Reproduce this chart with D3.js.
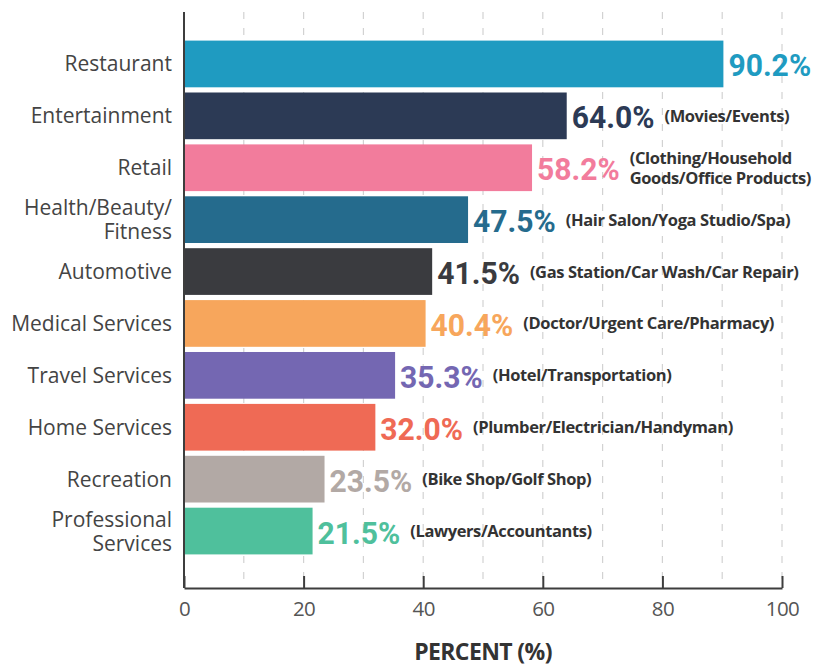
<!DOCTYPE html>
<html>
<head>
<meta charset="utf-8">
<script src="https://cdn.jsdelivr.net/npm/d3@7"></script>
<style>
  html, body { margin: 0; padding: 0; background: #fff; }
  svg { display: block; }
</style>
</head>
<body>
<svg id="chart" width="818" height="666"></svg>
<script>
// Share of respondents by business category
const categories = [
  "Restaurant", "Entertainment", "Retail", "Health/Beauty/\nFitness", "Automotive",
  "Medical Services", "Travel Services", "Home Services", "Recreation", "Professional\nServices"
];
const values = [90.2, 64.0, 58.2, 47.5, 41.5, 40.4, 35.3, 32.0, 23.5, 21.5];
const details = [
  "",
  "(Movies/Events)",
  "(Clothing/Household\nGoods/Office Products)",
  "(Hair Salon/Yoga Studio/Spa)",
  "(Gas Station/Car Wash/Car Repair)",
  "(Doctor/Urgent Care/Pharmacy)",
  "(Hotel/Transportation)",
  "(Plumber/Electrician/Handyman)",
  "(Bike Shop/Golf Shop)",
  "(Lawyers/Accountants)"
];
const colors = [
  "#1f9bc1", "#2c3a55", "#f27c9c", "#256b8d", "#3a3b3f",
  "#f7a65c", "#7467b2", "#ef6a55", "#b2a9a5", "#4fc09c"
];
const xTicks = [0, 20, 40, 60, 80, 100];
const gridTicks = [10, 20, 30, 40, 50, 60, 70, 80, 90, 100];
const xTitle = "PERCENT (%)";

const svg = d3.select("#chart");
const plotLeft = 184, plotRight = 782, plotTop = 12, axisY = 588;

const x = d3.scaleLinear().domain([0, 100]).range([plotLeft, plotRight]);
const y = d3.scaleBand().domain(categories).range([38, 557])
  .paddingInner(0.1).paddingOuter(0.05);

// dashed vertical grid
svg.append("g").selectAll("line").data(gridTicks).join("line")
  .attr("x1", d => x(d)).attr("x2", d => x(d))
  .attr("y1", plotTop).attr("y2", axisY)
  .attr("stroke", "#d2d2d2").attr("stroke-width", 1.2)
  .attr("stroke-dasharray", "7,9");

// bars
svg.append("g").selectAll("rect").data(categories).join("rect")
  .attr("x", x(0))
  .attr("y", d => y(d))
  .attr("width", (d, i) => x(values[i]) - x(0))
  .attr("height", y.bandwidth())
  .attr("fill", (d, i) => colors[i]);

// x axis with inward ticks
const xAxis = d3.axisBottom(x).tickValues(xTicks).tickSize(0).tickPadding(0);
const gx = svg.append("g").attr("transform", `translate(0,${axisY})`).call(xAxis);
gx.select(".domain").attr("stroke", "#3d3d3d").attr("stroke-width", 2);
gx.selectAll(".tick text").remove();
gx.selectAll(".tick").append("line")
  .attr("y1", 0).attr("y2", -12)
  .attr("stroke", "#3d3d3d").attr("stroke-width", 2);
gx.selectAll(".tick").append("text")
  .attr("y", 28)
  .attr("text-anchor", "middle")
  .attr("fill", "#555")
  .style("font-family", "'Open Sans', sans-serif")
  .style("font-size", "20.5px")
  .style("font-weight", 400)
  .style("letter-spacing", "-0.6px")
  .text(d => d);

// y axis line
svg.append("line")
  .attr("x1", plotLeft).attr("x2", plotLeft)
  .attr("y1", plotTop).attr("y2", axisY)
  .attr("stroke", "#3d3d3d").attr("stroke-width", 2);

// category labels (one text element per line)
const lineH = 24;
const gc = svg.append("g")
  .attr("fill", "#444")
  .style("font-family", "'Open Sans', sans-serif")
  .style("font-size", "21px");
categories.forEach(c => {
  const lines = c.split("\n");
  const cy = y(c) + y.bandwidth() / 2;
  lines.forEach((ln, k) => {
    gc.append("text")
      .attr("text-anchor", "end")
      .attr("x", 172)
      .attr("y", cy + 7.5 + (k - (lines.length - 1) / 2) * lineH)
      .text(ln);
  });
});

// value labels and details
const valScale = 0.94;
const gv = svg.append("g");
categories.forEach((c, i) => {
  const cy = y(c) + y.bandwidth() / 2;
  const vx = x(values[i]) + 5;
  const vt = gv.append("text")
    .attr("transform", `translate(${vx},${cy + 12.5}) scale(${valScale},1)`)
    .attr("fill", colors[i])
    .style("font-family", "Roboto, sans-serif")
    .style("font-size", "32px")
    .style("font-weight", 700)
    .text(values[i].toFixed(1) + "%");
  const w = vt.node().getComputedTextLength() * valScale;
  if (details[i]) {
    const lines = details[i].split("\n");
    lines.forEach((ln, k) => {
      gv.append("text")
        .attr("fill", "#333")
        .style("font-family", "'Open Sans', sans-serif")
        .style("font-size", "16.5px")
        .style("font-weight", 700)
        .style("letter-spacing", "-0.4px")
        .attr("x", vx + w + 10)
        .attr("y", cy + 6 + (k - (lines.length - 1) / 2) * 19.5)
        .text(ln);
    });
  }
});

// axis title
svg.append("text")
  .attr("x", x(50)).attr("y", 660)
  .attr("text-anchor", "middle")
  .attr("fill", "#333")
  .style("font-family", "'Open Sans', sans-serif")
  .style("font-size", "23px")
  .style("font-weight", 700)
  .style("letter-spacing", "-0.6px")
  .text(xTitle);
</script>
</body>
</html>
